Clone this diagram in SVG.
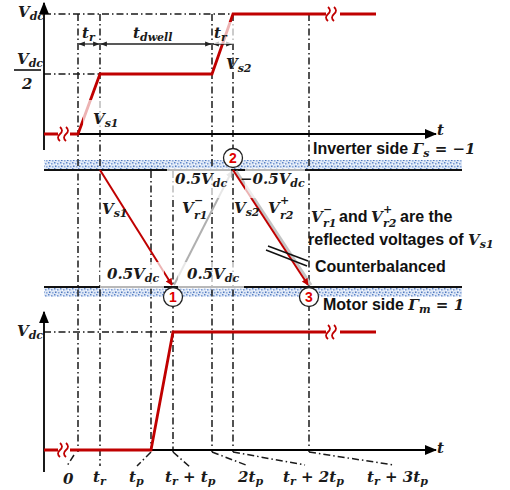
<svg xmlns="http://www.w3.org/2000/svg" width="510" height="490" viewBox="0 0 510 490">
<style>
.dd{stroke:#1a1a1a;stroke-width:1.5;stroke-dasharray:7 3 1.5 3;fill:none}
.ax{stroke:#000;stroke-width:1.8;fill:none}
.red{stroke:#c00000;stroke-width:2.8;fill:none}
.m{font-family:"DejaVu Serif",serif;font-weight:bold;font-style:italic;font-size:15px;fill:#1a1a1a}
.s{font-size:11px}
.sans{font-family:"Liberation Sans",Arial,sans-serif;font-weight:bold;font-size:16px;fill:#111}
.bx{fill:#fff;fill-opacity:0.7}
.num{font-family:"Liberation Sans",Arial,sans-serif;font-weight:bold;font-size:14px;fill:#e00000;text-anchor:middle}
.cir{fill:#fff;stroke:#222;stroke-width:1.3}
.band{fill:url(#dots)}
.blk{stroke:#111;stroke-width:2}
</style>
<defs>
<pattern id="dots" width="6" height="6" patternUnits="userSpaceOnUse">
<rect width="6" height="6" fill="#dfe8f6"/>
<rect x="0" y="0" width="1.5" height="1.5" fill="#5f86c8"/>
<rect x="3" y="1" width="1.5" height="1.5" fill="#7a9bd4"/>
<rect x="1" y="3.5" width="1.5" height="1.5" fill="#4f78bd"/>
<rect x="4" y="4" width="1.5" height="1.5" fill="#8aa8db"/>
<rect x="2" y="2" width="1" height="1" fill="#fff"/>
</pattern>
<marker id="ah" viewBox="0 0 10 10" refX="9" refY="5" markerWidth="7" markerHeight="7" orient="auto"><path d="M0,1 L10,5 L0,9 Z" fill="#000"/></marker>
<marker id="ar" viewBox="0 0 10 10" refX="9" refY="5" markerWidth="3.5" markerHeight="3.5" orient="auto"><path d="M0,0 L10,5 L0,10 Z" fill="#c00000"/></marker>
<marker id="ag" viewBox="0 0 10 10" refX="9" refY="5" markerWidth="3.5" markerHeight="3.5" orient="auto"><path d="M0,0 L10,5 L0,10 Z" fill="#b0b0b0"/></marker>
<marker id="ad" viewBox="0 0 10 10" refX="9" refY="5" markerWidth="5" markerHeight="5" orient="auto-start-reverse"><path d="M0,1 L10,5 L0,9 Z" fill="#222"/></marker>
</defs>
<rect width="510" height="490" fill="#fff"/>

<g id="inverter-band">
<rect class="band" x="44" y="160" width="418" height="9"/>
<line class="blk" x1="44" y1="170" x2="462" y2="170"/>
</g>
<g id="motor-band">
<rect class="band" x="44" y="288" width="418" height="9"/>
<line class="blk" x1="44" y1="287" x2="462" y2="287"/>
</g>

<g id="guides">
<line class="dd" x1="78" y1="14" x2="78" y2="452"/>
<line class="dd" x1="100" y1="14" x2="100" y2="466"/>
<line class="dd" x1="151" y1="171" x2="151" y2="450"/>
<line class="dd" x1="173" y1="171" x2="173" y2="452"/>
<line class="dd" x1="212" y1="14" x2="212" y2="452"/>
<line class="dd" x1="233" y1="14" x2="233" y2="452"/>
<line class="dd" x1="309" y1="14" x2="309" y2="452"/>
<line class="dd" x1="44" y1="14" x2="233" y2="14"/>
<line class="dd" x1="44" y1="74" x2="100" y2="74"/>
<line class="dd" x1="44" y1="332" x2="173" y2="332"/>
<line class="dd" x1="74" y1="455" x2="67" y2="466"/>
<line class="dd" x1="151" y1="452" x2="137" y2="466"/>
<line class="dd" x1="173" y1="452" x2="190" y2="467"/>
<line class="dd" x1="212" y1="452" x2="246" y2="465"/>
<line class="dd" x1="233" y1="452" x2="305" y2="465"/>
<line class="dd" x1="309" y1="452" x2="394" y2="465"/>
</g>

<g id="top-graph">
<line class="ax" x1="44" y1="150" x2="44" y2="3" marker-end="url(#ah)"/>
<line class="ax" x1="70" y1="134" x2="436" y2="134" marker-end="url(#ah)"/>
<line x1="14" y1="70" x2="41" y2="70" stroke="#000" stroke-width="1.5"/>
<path class="red" d="M44,134 H58 M70,134 H78 L100,74 H212 L233,14 H326 M340,14 H376"/>
<path d="M60,127 q4,3.5 0,7 q-4,3.5 0,7 M66,127 q4,3.5 0,7 q-4,3.5 0,7" stroke="#c00000" stroke-width="1.8" fill="none"/>
<path d="M328,7 q4,3.5 0,7 q-4,3.5 0,7 M334,7 q4,3.5 0,7 q-4,3.5 0,7" stroke="#c00000" stroke-width="1.8" fill="none"/>
<line x1="79" y1="44" x2="99" y2="44" stroke="#222" stroke-width="1.3" marker-start="url(#ad)" marker-end="url(#ad)"/>
<line x1="101" y1="44" x2="211" y2="44" stroke="#222" stroke-width="1.3" marker-start="url(#ad)" marker-end="url(#ad)"/>
<line x1="213" y1="44" x2="232" y2="44" stroke="#222" stroke-width="1.3" marker-start="url(#ad)" marker-end="url(#ad)"/>
<rect class="bx" x="83" y="100" width="34" height="30"/>
<rect class="bx" x="214" y="22" width="22" height="22"/>
<text class="m" x="18" y="17">V<tspan class="s" dy="3">dc</tspan></text>
<text class="m" x="17" y="64">V<tspan class="s" dy="3">dc</tspan></text>
<text class="m" x="22" y="89">2</text>
<text class="m" x="82" y="38">t<tspan class="s" dy="3">r</tspan></text>
<text class="m" x="133" y="38">t<tspan class="s" dy="3">dwell</tspan></text>
<text class="m" x="214" y="38">t<tspan class="s" dy="3">r</tspan></text>
<text class="m" x="93" y="124">V<tspan class="s" dy="3">s1</tspan></text>
<text class="m" x="226" y="69">V<tspan class="s" dy="3">s2</tspan></text>
<text class="m" x="437" y="135">t</text>
</g>

<g id="connectors">
<line x1="100" y1="170" x2="172" y2="285" stroke="#c00000" stroke-width="2" marker-end="url(#ar)"/>
<line x1="174" y1="285" x2="232" y2="171" stroke="#b0b0b0" stroke-width="2" marker-end="url(#ag)"/>
<line x1="236" y1="171" x2="311" y2="285" stroke="#c4c4c4" stroke-width="3"/>
<line x1="233" y1="170" x2="308" y2="285" stroke="#c00000" stroke-width="2" marker-end="url(#ar)"/>
<line x1="268" y1="246" x2="308" y2="261" stroke="#111" stroke-width="1.5"/>
<line x1="266" y1="250" x2="307" y2="266" stroke="#111" stroke-width="1.5"/>
</g>

<g id="mid-labels">
<rect class="bx" x="167" y="168" width="64" height="30"/>
<rect class="bx" x="245" y="168" width="60" height="30"/>
<rect class="bx" x="100" y="262" width="64" height="27"/>
<rect class="bx" x="178" y="262" width="66" height="27"/>
<text class="m" x="175" y="184">0.5V<tspan class="s" dy="3">dc</tspan></text>
<text class="m" x="240" y="184">−0.5V<tspan class="s" dy="3">dc</tspan></text>
<text class="m" x="107" y="279">0.5V<tspan class="s" dy="3">dc</tspan></text>
<text class="m" x="187" y="279">0.5V<tspan class="s" dy="3">dc</tspan></text>
<text class="m" x="102" y="214">V<tspan class="s" dy="3">s1</tspan></text>
<text class="m" x="182" y="213">V</text><text class="m s" x="194" y="204">−</text><text class="m s" x="194" y="219">r1</text>
<text class="m" x="234" y="213">V<tspan class="s" dy="3">s2</tspan></text>
<text class="m" x="268" y="213">V</text><text class="m s" x="280" y="204">+</text><text class="m s" x="280" y="219">r2</text>
<text class="sans" x="313" y="154">Inverter side <tspan class="m" font-size="16">Γ<tspan class="s" dy="3">s</tspan><tspan dy="-3"> = −1</tspan></tspan></text>
<text class="sans" x="323" y="310">Motor side <tspan class="m" font-size="16">Γ<tspan class="s" dy="3">m</tspan><tspan dy="-3"> = 1</tspan></tspan></text>
<text class="m" x="311" y="222">V</text><text class="m s" x="323" y="213">−</text><text class="m s" x="323" y="227">r1</text>
<text class="sans" x="339" y="222">and</text>
<text class="m" x="371" y="222">V</text><text class="m s" x="383" y="213">+</text><text class="m s" x="383" y="227">r2</text>
<text class="sans" x="400" y="222">are the</text>
<text class="sans" x="308" y="245">reflected voltages of <tspan class="m">V<tspan class="s" dy="3">s1</tspan></tspan></text>
<text class="sans" x="315" y="272">Counterbalanced</text>
</g>

<g id="node-1"><circle class="cir" cx="173" cy="297" r="9.5"/><text class="num" x="173" y="302">1</text></g>
<g id="node-2"><circle class="cir" cx="233" cy="158" r="9.5"/><text class="num" x="233" y="163">2</text></g>
<g id="node-3"><circle class="cir" cx="309" cy="297" r="9.5"/><text class="num" x="309" y="302">3</text></g>

<g id="bottom-graph">
<line class="ax" x1="44" y1="472" x2="44" y2="312" marker-end="url(#ah)"/>
<line class="ax" x1="70" y1="450" x2="436" y2="450" marker-end="url(#ah)"/>
<path class="red" d="M44,450 H58 M70,450 H151 L173,332 H326 M340,332 H376"/>
<path d="M60,443 q4,3.5 0,7 q-4,3.5 0,7 M66,443 q4,3.5 0,7 q-4,3.5 0,7" stroke="#c00000" stroke-width="1.8" fill="none"/>
<path d="M328,325 q4,3.5 0,7 q-4,3.5 0,7 M334,325 q4,3.5 0,7 q-4,3.5 0,7" stroke="#c00000" stroke-width="1.8" fill="none"/>
<text class="m" x="17" y="336">V<tspan class="s" dy="3">dc</tspan></text>
<text class="m" x="437" y="453">t</text>
<text class="m" x="63" y="484">0</text>
<text class="m" x="93" y="482">t<tspan class="s" dy="3">r</tspan></text>
<text class="m" x="129" y="482">t<tspan class="s" dy="3">p</tspan></text>
<text class="m" x="165" y="482">t<tspan class="s" dy="3">r</tspan><tspan dy="-3"> + t</tspan><tspan class="s" dy="3">p</tspan></text>
<text class="m" x="238" y="482">2t<tspan class="s" dy="3">p</tspan></text>
<text class="m" x="283" y="482">t<tspan class="s" dy="3">r</tspan><tspan dy="-3"> + 2t</tspan><tspan class="s" dy="3">p</tspan></text>
<text class="m" x="367" y="482">t<tspan class="s" dy="3">r</tspan><tspan dy="-3"> + 3t</tspan><tspan class="s" dy="3">p</tspan></text>
</g>
</svg>
